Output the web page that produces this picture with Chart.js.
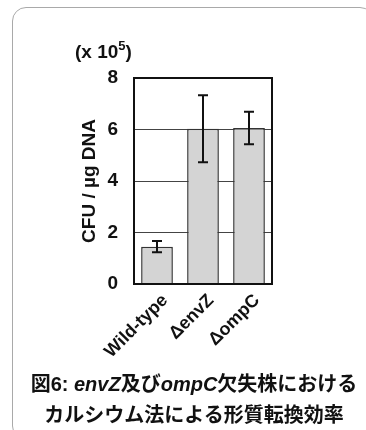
<!DOCTYPE html>
<html>
<head>
<meta charset="utf-8">
<script src="https://cdn.jsdelivr.net/npm/chart.js@4/dist/chart.umd.min.js"></script>
<style>
  html, body { margin: 0; padding: 0; background: #fff; }
  body { width: 366px; height: 430px; position: relative; overflow: hidden; }
  #frame {
    position: absolute; left: 12px; top: 7px; width: 362px; height: 433px;
    border: 1.5px solid #a9a9a9; border-radius: 14px; box-sizing: border-box;
  }
  #wrap { position: absolute; left: 0; top: 0; width: 366px; height: 430px; }
  #unit {
    position: absolute; left: 75px; top: 39px;
    font: bold 19px "Liberation Sans", Arial, sans-serif; color: #111;
  }
  #unit sup { font-size: 13px; position: relative; top: -1px; }
  #caption {
    position: absolute; left: 0; width: 388px; top: 369px; text-align: center;
    font: bold 20px "Liberation Sans", "Noto Sans CJK JP", sans-serif; color: #111;
    line-height: 31px; white-space: nowrap;
  }
  #caption i { font-style: italic; }
</style>
</head>
<body>
<div id="frame"></div>
<div id="wrap"><canvas id="c" width="366" height="430"></canvas></div>
<div id="unit">(x 10<sup>5</sup>)</div>
<div id="caption">図6: <i>envZ</i>及び<i>ompC</i>欠失株における<br>カルシウム法による形質転換効率</div>
<script>
// Strains and transformation efficiency (x 10^5 CFU per µg DNA)
const strains = ['Wild-type', '\u0394envZ', '\u0394ompC'];
const cfuMeans = [1.45, 6.03, 6.06];
const cfuErrors = [0.22, 1.3, 0.63];
const yTicks = [0, 2, 4, 6, 8];

const FONT = '"Liberation Sans", Arial, sans-serif';

// Box around the plot area and error bars drawn through the y scale
const plotExtras = {
  id: 'plotExtras',
  afterDatasetsDraw(chart) {
    const { ctx, chartArea: a, scales } = chart;
    const meta = chart.getDatasetMeta(0);
    ctx.save();
    ctx.strokeStyle = '#111';
    ctx.lineWidth = 2;
    meta.data.forEach((bar, i) => {
      const x = bar.x;
      const yHi = scales.y.getPixelForValue(cfuMeans[i] + cfuErrors[i]);
      const yLo = scales.y.getPixelForValue(cfuMeans[i] - cfuErrors[i]);
      ctx.beginPath();
      ctx.moveTo(x, yHi); ctx.lineTo(x, yLo);
      ctx.moveTo(x - 5, yHi); ctx.lineTo(x + 5, yHi);
      ctx.moveTo(x - 5, yLo); ctx.lineTo(x + 5, yLo);
      ctx.stroke();
    });
    ctx.strokeRect(a.left, a.top, a.right - a.left, a.bottom - a.top);
    ctx.restore();
  }
};

new Chart(document.getElementById('c'), {
  type: 'bar',
  data: {
    labels: strains,
    datasets: [{
      data: cfuMeans,
      backgroundColor: '#d4d4d4',
      borderColor: '#333',
      borderWidth: 1.5,
      barPercentage: 0.69,
      categoryPercentage: 1
    }]
  },
  options: {
    responsive: false,
    animation: false,
    devicePixelRatio: 1,
    layout: { padding: { left: 70, right: 94, top: 78, bottom: 36 } },
    plugins: { legend: { display: false }, tooltip: { enabled: false } },
    scales: {
      x: {
        afterFit(s) { s.height = 110; },
        grid: { display: false, drawTicks: false },
        border: { display: false },
        ticks: {
          color: '#111',
          minRotation: 45, maxRotation: 45,
          padding: 6,
          labelOffset: 8,
          font: { family: FONT, size: 18, weight: 'bold' }
        }
      },
      y: {
        min: 0, max: 8,
        afterFit(s) { s.width = 64; },
        afterBuildTicks(s) { s.ticks = yTicks.map(v => ({ value: v })); },
        grid: { color: '#444', lineWidth: 1, drawTicks: false },
        border: { display: false },
        ticks: { color: '#111', padding: 16, font: { family: FONT, size: 19, weight: 'bold' } },
        title: {
          display: true, text: 'CFU / µg DNA', color: '#111',
          padding: { top: 8, bottom: 0 },
          font: { family: FONT, size: 19, weight: 'bold' }
        }
      }
    }
  },
  plugins: [plotExtras]
});
</script>
</body>
</html>
